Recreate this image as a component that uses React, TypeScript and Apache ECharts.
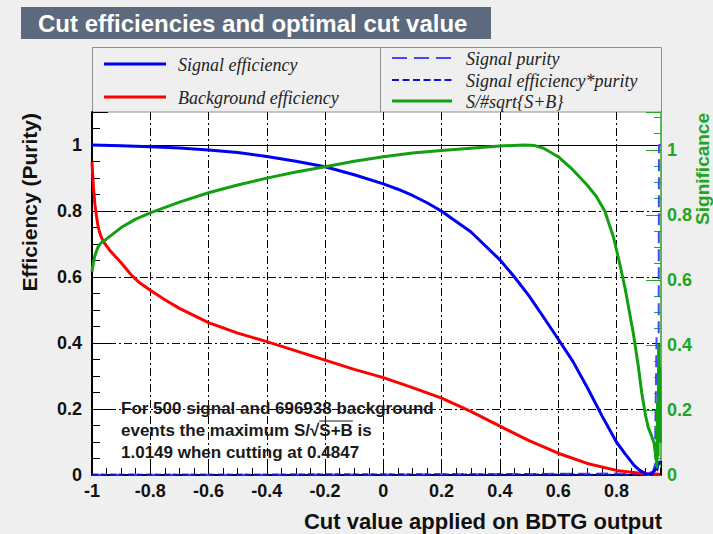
import React, { useEffect, useRef } from "react";
import * as echarts from "echarts";

const SANS = '"Liberation Sans", Arial, Helvetica, sans-serif';
const SERIF = '"Liberation Serif", "Times New Roman", serif';

// Signal efficiency vs cut value
const sigEffX = [-1, -0.9, -0.8, -0.7, -0.6, -0.5, -0.4, -0.3, -0.2, -0.1, 0, 0.05, 0.1, 0.15, 0.2, 0.3, 0.4, 0.45, 0.5, 0.55, 0.6, 0.65, 0.7, 0.75, 0.8, 0.83, 0.86, 0.88, 0.9, 0.92, 0.93, 0.94, 0.95];
const sigEffY = [1.0, 0.998, 0.995, 0.991, 0.985, 0.977, 0.965, 0.951, 0.934, 0.91, 0.882, 0.866, 0.847, 0.825, 0.799, 0.737, 0.652, 0.6, 0.543, 0.478, 0.412, 0.345, 0.265, 0.18, 0.1, 0.064, 0.03, 0.014, 0.004, 0.003, 0.012, 0.028, 0.04];

// Background efficiency vs cut value
const bkgEffX = [-1, -0.995, -0.99, -0.984, -0.978, -0.97, -0.961, -0.94, -0.92, -0.9, -0.88, -0.864, -0.84, -0.8, -0.75, -0.7, -0.6, -0.5, -0.4, -0.3, -0.2, -0.1, 0, 0.1, 0.2, 0.3, 0.4, 0.5, 0.6, 0.7, 0.8, 0.85, 0.9, 0.95];
const bkgEffY = [0.948, 0.87, 0.82, 0.78, 0.748, 0.725, 0.707, 0.682, 0.662, 0.643, 0.622, 0.605, 0.585, 0.56, 0.531, 0.505, 0.462, 0.43, 0.404, 0.376, 0.348, 0.32, 0.295, 0.265, 0.233, 0.193, 0.148, 0.104, 0.066, 0.035, 0.014, 0.008, 0.004, 0.002];

// Signal purity vs cut value
const purityX = [-1, -0.5, 0, 0.4, 0.6, 0.8, 0.9, 0.925, 0.932, 0.938, 0.945, 0.946, 0.953];
const purityY = [0.0007, 0.001, 0.0015, 0.0027, 0.0035, 0.0045, 0.003, 0.01, 0.03, 0.43, 0.43, 1.0, 1.0];

// Signal efficiency * purity vs cut value
const effPurX = [-1, -0.5, 0, 0.4, 0.6, 0.8, 0.9, 0.93, 0.94, 0.946, 0.953];
const effPurY = [0.0007, 0.001, 0.0013, 0.0018, 0.0014, 0.0005, 0.0, 0.0003, 0.013, 0.04, 0.04];

// Significance S/sqrt(S+B) vs cut value (right axis)
const signifX = [-1, -0.995, -0.99, -0.98, -0.97, -0.95, -0.9, -0.85, -0.8, -0.7, -0.6, -0.5, -0.4, -0.3, -0.2, -0.1, 0, 0.1, 0.2, 0.3, 0.4, 0.4847, 0.52, 0.55, 0.6, 0.65, 0.7, 0.73, 0.76, 0.79, 0.81, 0.83, 0.858, 0.875, 0.887, 0.9, 0.909, 0.92, 0.929, 0.935, 0.939, 0.941, 0.943, 0.945, 0.947, 0.949, 0.951];
const signifY = [0.625, 0.655, 0.675, 0.7, 0.713, 0.726, 0.761, 0.787, 0.806, 0.839, 0.868, 0.892, 0.913, 0.932, 0.948, 0.965, 0.979, 0.99, 0.998, 1.005, 1.012, 1.0149, 1.013, 1.005, 0.979, 0.939, 0.891, 0.858, 0.812, 0.731, 0.655, 0.573, 0.436, 0.335, 0.252, 0.183, 0.147, 0.122, 0.098, 0.06, 0.025, 0.22, 0.06, 0.4, 0.12, 0.33, 0.1];

const xMin = -1;
const xMax = 0.953;
const effMax = 1.1;
const signifMax = 1.1164;

const titleText = "Cut efficiencies and optimal cut value";
const xTitle = "Cut value applied on BDTG output";
const yTitle = "Efficiency (Purity)";
const y2Title = "Significance";
const infoLines = [
  "For 500 signal and 696938 background",
  "events the maximum S/\u221AS+B is",
  "1.0149 when cutting at 0.4847",
];
const legendLeft = ["Signal efficiency", "Background efficiency"];
const legendRight = ["Signal purity", "Signal efficiency*purity", "S/#sqrt{S+B}"];

const BLUE = "#0000f0";
const RED = "#ff0000";
const GREEN = "#12a012";
const AXIS_GREEN = "#22a622";
const PURITY_BLUE = "#4646ff";
const EFFPUR_BLUE = "#1010c8";
const BG = "#efefef";

const zip = (xs: number[], ys: number[]) => xs.map((x, i) => [x, ys[i]]);
const fmt = (v: number) => String(Math.round(v * 10) / 10);

function measure(text: string, font: string): number {
  const c = document.createElement("canvas").getContext("2d");
  if (!c) return text.length * 9;
  c.font = font;
  return c.measureText(text).width;
}

export default function App() {
  const ref = useRef<HTMLDivElement>(null);

  useEffect(() => {
    if (!ref.current) return;
    const chart = echarts.init(ref.current, null, { renderer: "svg" });

    const gl = { left: 92, top: 112, width: 569, height: 363 };
    const infoFont = `bold 17px ${SANS}`;
    const infoX = 121;
    const infoY = [408, 430, 452];
    const before = measure("events the maximum S/\u221A", infoFont);
    const under = measure("S+B", infoFont);

    const gridDash = [8, 3, 2, 3];

    const legendText = (text: string, x: number, y: number) => ({
      type: "text",
      x,
      y,
      style: {
        text,
        fill: "#222",
        fontFamily: SERIF,
        fontStyle: "italic",
        fontSize: 18,
        verticalAlign: "middle",
        align: "left",
      },
    });

    chart.setOption({
      animation: false,
      backgroundColor: BG,
      grid: {
        ...gl,
        show: true,
        backgroundColor: "#ffffff",
        borderWidth: 0,
        containLabel: false,
        outerBoundsMode: "none",
      },
      xAxis: {
        type: "value",
        min: xMin,
        max: xMax,
        interval: 0.2,
        axisLine: { show: true, onZero: false, lineStyle: { color: "#000", width: 2 } },
        axisTick: { show: true, inside: true, length: 14, lineStyle: { color: "#000", width: 1 } },
        minorTick: { show: true, splitNumber: 4, length: 7, lineStyle: { color: "#000", width: 1 } },
        axisLabel: {
          formatter: fmt,
          showMaxLabel: false,
          margin: 7,
          color: "#111",
          fontFamily: SANS,
          fontWeight: "bold",
          fontSize: 18,
        },
        splitLine: {
          show: true,
          showMinLine: false,
          showMaxLine: false,
          lineStyle: { color: "#000", width: 1, type: gridDash },
        },
      },
      yAxis: [
        {
          type: "value",
          min: 0,
          max: effMax,
          interval: 0.2,
          position: "left",
          axisLine: { show: true, onZero: false, lineStyle: { color: "#000", width: 2 } },
          axisTick: { show: true, inside: true, length: 16, lineStyle: { color: "#000", width: 1 } },
          minorTick: { show: true, splitNumber: 4, length: 8, lineStyle: { color: "#000", width: 1 } },
          axisLabel: {
            formatter: fmt,
            showMaxLabel: false,
            margin: 10,
            color: "#111",
            fontFamily: SANS,
            fontWeight: "bold",
            fontSize: 18,
          },
          splitLine: {
            show: true,
            showMinLine: false,
            showMaxLine: false,
            lineStyle: { color: "#000", width: 1, type: gridDash },
          },
        },
        {
          type: "value",
          min: 0,
          max: signifMax,
          interval: 0.2,
          position: "right",
          axisLine: { show: true, onZero: false, lineStyle: { color: AXIS_GREEN, width: 1.5 } },
          axisTick: { show: true, inside: true, length: 15, lineStyle: { color: AXIS_GREEN, width: 1 } },
          minorTick: { show: true, splitNumber: 4, length: 7, lineStyle: { color: AXIS_GREEN, width: 1 } },
          axisLabel: {
            formatter: fmt,
            showMaxLabel: false,
            margin: 6,
            color: AXIS_GREEN,
            fontFamily: SANS,
            fontWeight: "bold",
            fontSize: 18,
          },
          splitLine: { show: false },
        },
      ],
      series: [
        {
          name: "Signal purity",
          type: "line",
          yAxisIndex: 0,
          data: zip(purityX, purityY),
          symbol: "none",
          lineStyle: { color: PURITY_BLUE, width: 2, type: [12, 6] },
          z: 3,
        },
        {
          name: "Signal efficiency*purity",
          type: "line",
          yAxisIndex: 0,
          data: zip(effPurX, effPurY),
          symbol: "none",
          lineStyle: { color: EFFPUR_BLUE, width: 2, type: [6, 3] },
          z: 3,
        },
        {
          name: "Background efficiency",
          type: "line",
          yAxisIndex: 0,
          data: zip(bkgEffX, bkgEffY),
          symbol: "none",
          lineStyle: { color: RED, width: 3, join: "round" },
          z: 4,
        },
        {
          name: "Signal efficiency",
          type: "line",
          yAxisIndex: 0,
          data: zip(sigEffX, sigEffY),
          symbol: "none",
          lineStyle: { color: BLUE, width: 3, join: "round" },
          z: 4,
          markLine: {
            silent: true,
            symbol: "none",
            label: { show: false },
            lineStyle: { color: "#000", width: 1, type: "solid" },
            data: [{ yAxis: 1 }],
            z: 2,
          },
        },
        {
          name: "S/#sqrt{S+B}",
          type: "line",
          yAxisIndex: 1,
          data: zip(signifX, signifY),
          symbol: "none",
          lineStyle: { color: GREEN, width: 3, join: "round" },
          z: 5,
        },
      ],
      graphic: [
        // Title box
        {
          type: "rect",
          shape: { x: 21, y: 7, width: 470, height: 32 },
          style: { fill: "#5d6a7e" },
        },
        {
          type: "text",
          x: 38,
          y: 23,
          style: {
            text: titleText,
            fill: "#ffffff",
            fontFamily: SANS,
            fontWeight: "bold",
            fontSize: 24,
            verticalAlign: "middle",
          },
        },
        // Legend frame
        {
          type: "rect",
          shape: { x: 92.5, y: 47.5, width: 569, height: 64.5 },
          style: { fill: BG, stroke: "#8f8f8f", lineWidth: 1 },
        },
        {
          type: "line",
          shape: { x1: 380.5, y1: 47.5, x2: 380.5, y2: 112 },
          style: { stroke: "#8f8f8f", lineWidth: 1 },
        },
        {
          type: "line",
          shape: { x1: 104, y1: 64, x2: 166, y2: 64 },
          style: { stroke: BLUE, lineWidth: 3 },
        },
        legendText(legendLeft[0], 178, 65),
        {
          type: "line",
          shape: { x1: 104, y1: 97, x2: 166, y2: 97 },
          style: { stroke: RED, lineWidth: 3 },
        },
        legendText(legendLeft[1], 178, 98),
        {
          type: "line",
          shape: { x1: 392, y1: 58, x2: 452, y2: 58 },
          style: { stroke: PURITY_BLUE, lineWidth: 2, lineDash: [15, 7] },
        },
        legendText(legendRight[0], 466, 59),
        {
          type: "line",
          shape: { x1: 392, y1: 80, x2: 452, y2: 80 },
          style: { stroke: EFFPUR_BLUE, lineWidth: 2, lineDash: [7, 3.5] },
        },
        legendText(legendRight[1], 466, 81),
        {
          type: "line",
          shape: { x1: 392, y1: 101, x2: 452, y2: 101 },
          style: { stroke: GREEN, lineWidth: 3 },
        },
        legendText(legendRight[2], 466, 102),
        // Axis titles
        {
          type: "text",
          x: 29,
          y: 113,
          rotation: Math.PI / 2,
          style: {
            text: yTitle,
            fill: "#111",
            fontFamily: SANS,
            fontWeight: "bold",
            fontSize: 21,
            align: "right",
            verticalAlign: "middle",
          },
        },
        {
          type: "text",
          x: 702,
          y: 113,
          rotation: Math.PI / 2,
          style: {
            text: y2Title,
            fill: AXIS_GREEN,
            fontFamily: SANS,
            fontWeight: "bold",
            fontSize: 19,
            align: "right",
            verticalAlign: "middle",
          },
        },
        {
          type: "text",
          x: 662,
          y: 521,
          style: {
            text: xTitle,
            fill: "#111",
            fontFamily: SANS,
            fontWeight: "bold",
            fontSize: 22,
            align: "right",
            verticalAlign: "middle",
          },
        },
        // Optimal cut summary
        ...infoLines.map((t, i) => ({
          type: "text",
          x: infoX,
          y: infoY[i],
          z: 1,
          style: {
            text: t,
            fill: "#1a1a1a",
            font: infoFont,
            verticalAlign: "middle",
          },
        })),
        {
          type: "line",
          z: 1,
          shape: { x1: infoX + before, y1: infoY[1] - 9, x2: infoX + before + under, y2: infoY[1] - 9 },
          style: { stroke: "#1a1a1a", lineWidth: 1.2 },
        },
      ],
    });

    return () => chart.dispose();
  }, []);

  return (
    <div
      ref={ref}
      style={{ position: "fixed", left: 0, top: 0, width: 713, height: 534, background: BG }}
    />
  );
}
